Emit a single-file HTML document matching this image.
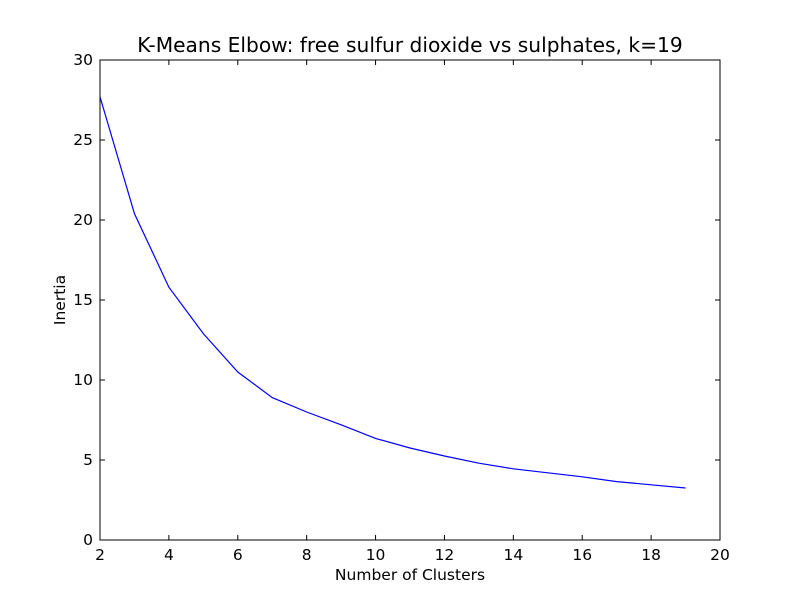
<!DOCTYPE html>
<html><head><meta charset="utf-8"><style>
html,body{margin:0;padding:0;background:#fff;}
svg text{font-family:"DejaVu Sans","Liberation Sans",sans-serif;fill:#000;}
</style></head><body>
<svg id="chart" width="800" height="600" xmlns="http://www.w3.org/2000/svg">
<rect width="800" height="600" fill="#fff"/>
<text x="410" y="52" font-size="20.2" text-anchor="middle">K-Means Elbow: free sulfur dioxide vs sulphates, k=19</text>
<g id="ticks"></g>
<path id="line" fill="none" stroke="#0000ff" stroke-width="1.2"/>
<rect x="100" y="60" width="620" height="480" fill="none" stroke="#000" stroke-width="1"/>
<text x="410" y="580" font-size="15.5" text-anchor="middle">Number of Clusters</text>
<text x="0" y="0" font-size="15.5" text-anchor="middle" transform="translate(65,300) rotate(-90)">Inertia</text>
</svg>
<script>
const clusters = [2,3,4,5,6,7,8,9,10,11,12,13,14,15,16,17,18,19];
const inertia = [27.7,20.4,15.8,12.9,10.5,8.9,8.0,7.2,6.35,5.75,5.25,4.8,4.45,4.2,3.95,3.65,3.45,3.25];
const xTicks = [2,4,6,8,10,12,14,16,18,20];
const yTicks = [0,5,10,15,20,25,30];
const L=100,R=720,T=60,B=540;
function xs(v){return L+(v-2)/(20-2)*(R-L);}
function ys(v){return B-(v-0)/(30-0)*(B-T);}
const NS="http://www.w3.org/2000/svg";
const g=document.getElementById('ticks');
function add(tag,attrs,parent){const e=document.createElementNS(NS,tag);for(const k in attrs)e.setAttribute(k,attrs[k]);(parent||g).appendChild(e);return e;}
xTicks.forEach(t=>{
  const x=xs(t);
  const a=add('line',{x1:x,x2:x,y1:B,y2:B-5,stroke:'#000'});
  
  
  const b=add('line',{x1:x,x2:x,y1:T,y2:T+5,stroke:'#000'});
  
  
  const tx=add('text',{x:x,y:B+20,'font-size':15.5,'text-anchor':'middle'});
  tx.textContent=t;
  
  
});
yTicks.forEach(t=>{
  const y=ys(t);
  const a=add('line',{x1:L,x2:L+5,y1:y,y2:y,stroke:'#000'});
  
  
  const b=add('line',{x1:R,x2:R-5,y1:y,y2:y,stroke:'#000'});
  
  
  const tx=add('text',{x:L-7,y:y+5,'font-size':15.5,'text-anchor':'end'});
  tx.textContent=t;
  
  
});
document.getElementById('line').setAttribute('d',clusters.map((c,i)=>(i?'L':'M')+xs(c).toFixed(2)+' '+ys(inertia[i]).toFixed(2)).join(' '));
</script>
</body></html>
